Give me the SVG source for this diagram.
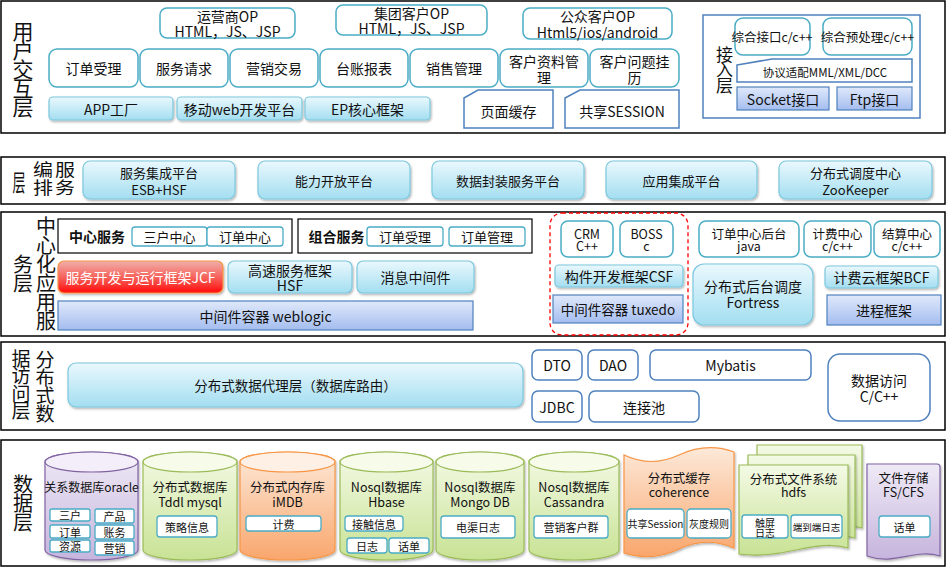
<svg xmlns="http://www.w3.org/2000/svg" width="949" height="569" viewBox="0 0 949 569">
<defs>
<linearGradient id="gLB" x1="0" y1="0" x2="0" y2="1"><stop offset="0" stop-color="#eaf8fd"/><stop offset="1" stop-color="#a3def1"/></linearGradient>
<linearGradient id="gBlue" x1="0" y1="0" x2="0" y2="1"><stop offset="0" stop-color="#e0e9fb"/><stop offset="1" stop-color="#a4bdef"/></linearGradient>
<linearGradient id="gRed" x1="0" y1="0" x2="0" y2="1"><stop offset="0" stop-color="#f0b0ab"/><stop offset="0.55" stop-color="#f75c55"/><stop offset="1" stop-color="#ff0a0a"/></linearGradient>
<linearGradient id="gPur" x1="0" y1="0" x2="0" y2="1"><stop offset="0" stop-color="#efeaf6"/><stop offset="1" stop-color="#c6b4dd"/></linearGradient>
<linearGradient id="gGrn" x1="0" y1="0" x2="0" y2="1"><stop offset="0" stop-color="#f4fae6"/><stop offset="1" stop-color="#c8e294"/></linearGradient>
<linearGradient id="gOrg" x1="0" y1="0" x2="0" y2="1"><stop offset="0" stop-color="#fde9d9"/><stop offset="1" stop-color="#f9a66c"/></linearGradient>
<filter id="sh" x="-10%" y="-10%" width="130%" height="140%"><feDropShadow dx="1" dy="1.5" stdDeviation="1" flood-color="#000" flood-opacity="0.3"/></filter>
<style>
.lay{fill:#fff;stroke:#000;stroke-width:1.5}
.wb{fill:#fff;stroke:#4bacc6;stroke-width:1.5}
.lb{fill:url(#gLB);stroke:#7cc8de;stroke-width:1.2;filter:url(#sh)}
.bb{fill:url(#gBlue);stroke:#4f81bd;stroke-width:1.2}
.db{fill:#fff;stroke:#4f81bd;stroke-width:1.5}
.sb{fill:#fff;stroke:#4bacc6;stroke-width:1.3}
.pur{fill:url(#gPur);stroke:#8064a2;stroke-width:1.2;filter:url(#sh)}
.grn{fill:url(#gGrn);stroke:#9bbb59;stroke-width:1.2;filter:url(#sh)}
.org{fill:url(#gOrg);stroke:#f79646;stroke-width:1.2;filter:url(#sh)}
.pt{fill:#f3eef9;stroke:#8064a2;stroke-width:1.2}
.gt{fill:#f6fbea;stroke:#9bbb59;stroke-width:1.2}
.ot{fill:#fef0e5;stroke:#f79646;stroke-width:1.2}
text{font-family:"Noto Sans CJK SC","Microsoft YaHei",sans-serif;text-anchor:middle;dominant-baseline:central;fill:#111;font-size:14px}
.v{writing-mode:vertical-rl;text-anchor:start;dominant-baseline:central}
.s13{font-size:13px}
.s12{font-size:12.5px}
.s11{font-size:11px}
.s10{font-size:10px}
.b{font-weight:bold}
</style>
</defs>

<!-- Layer 1 -->
<g id="layer-ui">
<rect class="lay" x="1" y="1" width="944" height="132"/>
<text class="v" x="23" y="20.5" style="font-size:21px;letter-spacing:-2px">用户交互层</text>
</g>
<g id="op-yys"><rect class="wb" x="160" y="8" width="135" height="30" rx="7"/><text><tspan x="227.5" y="15.5">运营商OP</tspan><tspan x="227.5" y="31">HTML，JS、JSP</tspan></text></g>
<g id="op-jt"><rect class="wb" x="336" y="5" width="151" height="30" rx="7"/><text><tspan x="411.5" y="12.5">集团客户OP</tspan><tspan x="411.5" y="28">HTML，JS、JSP</tspan></text></g>
<g id="op-gz"><rect class="wb" x="523" y="8" width="149" height="31" rx="7"/><text><tspan x="597.5" y="15.5">公众客户OP</tspan><tspan x="597.5" y="32">Html5/ios/android</tspan></text></g>
<g id="ui-ddsl"><rect class="wb" x="49" y="49" width="89" height="38" rx="8"/><text x="93.5" y="68">订单受理</text></g>
<g id="ui-fwqq"><rect class="wb" x="140" y="49" width="88" height="38" rx="8"/><text x="184" y="68">服务请求</text></g>
<g id="ui-yxjy"><rect class="wb" x="230" y="49" width="88" height="38" rx="8"/><text x="274" y="68">营销交易</text></g>
<g id="ui-tzbb"><rect class="wb" x="320" y="49" width="88" height="38" rx="8"/><text x="364" y="68">台账报表</text></g>
<g id="ui-xsgl"><rect class="wb" x="410" y="49" width="88" height="38" rx="8"/><text x="454" y="68">销售管理</text></g>
<g id="ui-khzl"><rect class="wb" x="500" y="49" width="88" height="38" rx="8"/><text><tspan x="544" y="61">客户资料管</tspan><tspan x="544" y="77">理</tspan></text></g>
<g id="ui-khwt"><rect class="wb" x="590" y="49" width="89" height="38" rx="8"/><text><tspan x="634.5" y="61">客户问题挂</tspan><tspan x="634.5" y="77">历</tspan></text></g>
<g id="ui-app"><rect class="lb" x="49" y="97" width="124" height="23" rx="4"/><text x="111" y="108.5">APP工厂</text></g>
<g id="ui-web"><rect class="lb" x="177" y="97" width="125" height="23" rx="4"/><text x="239.5" y="108.5">移动web开发平台</text></g>
<g id="ui-ep"><rect class="lb" x="305" y="97" width="125" height="23" rx="4"/><text x="367.5" y="108.5">EP核心框架</text></g>
<g id="ui-ymhc"><polygon class="db" points="464,98 478,90 553,90 553,128 464,128"/><text x="508.5" y="111">页面缓存</text></g>
<g id="ui-session"><polygon class="db" points="565,98 580,90 679,90 679,128 565,128"/><text x="622" y="111">共享SESSION</text></g>

<g id="access-layer">
<rect x="703" y="15" width="217" height="103" fill="#fff" stroke="#4f81bd" stroke-width="1.5"/>
<text class="v" x="724.5" y="46" style="font-size:17px;letter-spacing:-1.5px">接入层</text>
</g>
<g id="acc-zhjk"><rect class="wb" x="735" y="18" width="75" height="37" rx="8"/><text class="s12" x="772" y="36.5">综合接口c/c++</text></g>
<g id="acc-zhycl"><rect class="wb" x="823" y="18" width="89" height="37" rx="8"/><text class="s12" x="867.5" y="36.5">综合预处理c/c++</text></g>
<g id="acc-xysp"><polygon class="db" points="737,65 772,59 912,59 912,82 737,82"/><text x="825" y="72" style="font-size:11.5px">协议适配MML/XML/DCC</text></g>
<g id="acc-socket"><rect class="bb" x="737" y="87" width="92" height="23"/><text x="783" y="98.5">Socket接口</text></g>
<g id="acc-ftp"><rect class="bb" x="837" y="87" width="75" height="23"/><text x="874.5" y="98.5">Ftp接口</text></g>

<!-- Layer 2 -->
<g id="layer-orch">
<rect class="lay" x="1" y="157" width="944" height="47"/>
<text transform="translate(19,181) scale(0.62,1.1)" style="font-size:21px">层</text>
<text class="v" transform="translate(43,161) scale(1,0.85)" x="0" y="0" style="font-size:20px;letter-spacing:1px">编排</text>
<text class="v" transform="translate(65,161) scale(1,0.85)" x="0" y="0" style="font-size:20px;letter-spacing:1px">服务</text>
</g>
<g id="orch-esb"><rect class="lb" x="83" y="161" width="152" height="38" rx="7"/><text class="s13"><tspan x="159" y="172">服务集成平台</tspan><tspan x="159" y="189">ESB+HSF</tspan></text></g>
<g id="orch-nlkf"><rect class="lb" x="258" y="161" width="152" height="38" rx="7"/><text class="s13" x="334" y="180">能力开放平台</text></g>
<g id="orch-sjfz"><rect class="lb" x="432" y="161" width="152" height="38" rx="7"/><text class="s13" x="508" y="180">数据封装服务平台</text></g>
<g id="orch-yyjc"><rect class="lb" x="606" y="161" width="151" height="38" rx="7"/><text class="s13" x="681.5" y="180">应用集成平台</text></g>
<g id="orch-zk"><rect class="lb" x="779" y="161" width="153" height="38" rx="7"/><text class="s13"><tspan x="855.5" y="172">分布式调度中心</tspan><tspan x="855.5" y="189">ZooKeeper</tspan></text></g>

<!-- Layer 3 -->
<g id="layer-app">
<rect class="lay" x="1" y="212" width="944" height="124"/>
<text class="v" x="46" y="216.5" style="font-size:20px;letter-spacing:-1px">中心化应用服</text>
<text class="v" x="23" y="254.5" style="font-size:20px;letter-spacing:-1px">务层</text>
</g>
<g id="center-service">
<rect x="58" y="219" width="234" height="34" fill="#fff" stroke="#000" stroke-width="1.2"/>
<text class="b" x="97" y="236">中心服务</text>
<rect class="sb" x="132" y="227" width="75" height="19" rx="3"/><text class="s13" x="169.5" y="236.5">三户中心</text>
<rect class="sb" x="207" y="227" width="76" height="19" rx="3"/><text class="s13" x="245" y="236.5">订单中心</text>
</g>
<g id="combo-service">
<rect x="298" y="219" width="234" height="34" fill="#fff" stroke="#000" stroke-width="1.2"/>
<text class="b" x="336.5" y="236">组合服务</text>
<rect class="sb" x="367" y="227" width="76" height="19" rx="3"/><text class="s13" x="405" y="236.5">订单受理</text>
<rect class="sb" x="449" y="227" width="76" height="19" rx="3"/><text class="s13" x="487" y="236.5">订单管理</text>
</g>
<g id="app-jcf"><rect x="58" y="261" width="165" height="32" rx="6" fill="url(#gRed)" stroke="#f79646" stroke-width="1.2" filter="url(#sh)"/><text x="140.5" y="277" style="fill:#fff">服务开发与运行框架JCF</text></g>
<g id="app-hsf"><rect class="lb" x="228" y="261" width="124" height="32" rx="6"/><text><tspan x="290" y="269.5">高速服务框架</tspan><tspan x="290" y="285">HSF</tspan></text></g>
<g id="app-mq"><rect class="lb" x="357" y="261" width="117" height="32" rx="6"/><text x="415.5" y="277">消息中间件</text></g>
<g id="app-weblogic"><rect class="bb" x="58" y="301" width="415" height="29"/><text x="265.5" y="315.5">中间件容器 weblogic</text></g>

<g id="crm-boss-group"><rect x="550" y="213" width="138" height="122" rx="12" fill="none" stroke="#ff0000" stroke-width="1.3" stroke-dasharray="4,3"/></g>
<g id="app-crm"><rect class="wb" x="561" y="221" width="52" height="36" rx="7"/><text class="s12"><tspan x="587" y="233">CRM</tspan><tspan x="587" y="245">C++</tspan></text></g>
<g id="app-boss"><rect class="wb" x="620" y="221" width="53" height="36" rx="7"/><text class="s12"><tspan x="646.5" y="233">BOSS</tspan><tspan x="646.5" y="245">c</tspan></text></g>
<g id="app-csf"><rect class="lb" x="555" y="265" width="128" height="22" rx="4"/><text x="619" y="276">构件开发框架CSF</text></g>
<g id="app-tuxedo"><rect class="bb" x="553" y="295" width="130" height="28"/><text x="618" y="309" style="font-size:13.5px">中间件容器 tuxedo</text></g>
<g id="app-ddzxht"><rect class="wb" x="699" y="221" width="100" height="36" rx="7"/><text class="s12"><tspan x="749" y="233">订单中心后台</tspan><tspan x="749" y="245">java</tspan></text></g>
<g id="app-jfzx"><rect class="wb" x="804" y="221" width="67" height="36" rx="7"/><text class="s12"><tspan x="837.5" y="233">计费中心</tspan><tspan x="837.5" y="245">c/c++</tspan></text></g>
<g id="app-jszx"><rect class="wb" x="874" y="221" width="66" height="36" rx="7"/><text class="s12"><tspan x="907" y="233">结算中心</tspan><tspan x="907" y="245">c/c++</tspan></text></g>
<g id="app-fortress"><rect class="lb" x="693" y="264" width="120" height="61" rx="11"/><text><tspan x="753" y="286">分布式后台调度</tspan><tspan x="753" y="302">Fortress</tspan></text></g>
<g id="app-bcf"><rect class="lb" x="825" y="266" width="113" height="22" rx="4"/><text x="881.5" y="277">计费云框架BCF</text></g>
<g id="app-jckj"><rect class="bb" x="827" y="295" width="114" height="30"/><text x="884" y="310">进程框架</text></g>

<!-- Layer 4 -->
<g id="layer-dal">
<rect class="lay" x="1" y="342" width="944" height="88"/>
<text class="v" x="21" y="349" style="font-size:19px;letter-spacing:-1.5px">据访问层</text>
<text class="v" x="45" y="350" style="font-size:19px;letter-spacing:-1px">分布式数</text>
</g>
<g id="dal-proxy"><rect class="lb" x="68" y="363" width="455" height="44" rx="8"/><text x="295.5" y="385" style="font-size:13.5px">分布式数据代理层（数据库路由）</text></g>
<g id="dal-dto"><rect class="db" x="532" y="350" width="50" height="30" rx="6"/><text x="557" y="365">DTO</text></g>
<g id="dal-dao"><rect class="db" x="588" y="350" width="50" height="30" rx="6"/><text x="613" y="365">DAO</text></g>
<g id="dal-mybatis"><rect class="db" x="650" y="350" width="161" height="30" rx="6"/><text x="730.5" y="364.5">Mybatis</text></g>
<g id="dal-jdbc"><rect class="db" x="532" y="391" width="50" height="31" rx="6"/><text x="557" y="406.5">JDBC</text></g>
<g id="dal-pool"><rect class="db" x="589" y="391" width="110" height="31" rx="6"/><text x="644" y="406.5">连接池</text></g>
<g id="dal-cpp"><rect class="db" x="828" y="354" width="102" height="67" rx="12"/><text><tspan x="879" y="380">数据访问</tspan><tspan x="879" y="396">C/C++</tspan></text></g>

<!-- Layer 5 -->
<g id="layer-data">
<rect class="lay" x="1" y="440" width="944" height="126"/>
<text class="v" x="23" y="474" style="font-size:20px;letter-spacing:-1px">数据层</text>
</g>
<g id="db-oracle">
<path class="pur" d="M45,462 A46.5,10 0 0 1 138,462 V550 A46.5,10 0 0 1 45,550 Z"/>
<ellipse class="pt" cx="91.5" cy="462" rx="46.5" ry="10"/>
<text x="91.5" y="486" style="font-size:12px">关系数据库oracle</text>
<rect class="sb" x="50" y="509" width="40" height="12" rx="2"/><text class="s11" x="70" y="515">三户</text>
<rect class="sb" x="95" y="509" width="39" height="14" rx="2"/><text class="s11" x="114.5" y="516">产品</text>
<rect class="sb" x="50" y="525" width="40" height="13" rx="2"/><text class="s11" x="70" y="531.5">订单</text>
<rect class="sb" x="95" y="525" width="39" height="14" rx="2"/><text class="s11" x="114.5" y="532">账务</text>
<rect class="sb" x="50" y="540" width="40" height="12" rx="2"/><text class="s11" x="70" y="546">资源</text>
<rect class="sb" x="95" y="541" width="39" height="14" rx="2"/><text class="s11" x="114.5" y="548">营销</text>
</g>
<g id="db-tddl">
<path class="grn" d="M143,462 A47,10 0 0 1 237,462 V550 A47,10 0 0 1 143,550 Z"/>
<ellipse class="gt" cx="190" cy="462" rx="47" ry="10"/>
<text class="s12"><tspan x="190" y="486">分布式数据库</tspan><tspan x="190" y="501">Tddl mysql</tspan></text>
<rect class="sb" x="157" y="516" width="60" height="21" rx="3"/><text class="s11" x="187" y="526.5">策略信息</text>
</g>
<g id="db-imdb">
<path class="org" d="M240,462 A47.5,10 0 0 1 335,462 V550 A47.5,10 0 0 1 240,550 Z"/>
<ellipse class="ot" cx="287.5" cy="462" rx="47.5" ry="10"/>
<text class="s12"><tspan x="287.5" y="486">分布式内存库</tspan><tspan x="287.5" y="501">iMDB</tspan></text>
<rect class="sb" x="246" y="516" width="75" height="15" rx="3"/><text class="s11" x="283.5" y="523.5">计费</text>
</g>
<g id="db-hbase">
<path class="grn" d="M340,462 A46.5,10 0 0 1 433,462 V550 A46.5,10 0 0 1 340,550 Z"/>
<ellipse class="gt" cx="386.5" cy="462" rx="46.5" ry="10"/>
<text class="s12"><tspan x="386.5" y="486">Nosql数据库</tspan><tspan x="386.5" y="501">Hbase</tspan></text>
<rect class="sb" x="345" y="516" width="58" height="15" rx="3"/><text class="s11" x="374" y="523.5">接触信息</text>
<rect class="sb" x="347" y="538" width="40" height="15" rx="3"/><text class="s11" x="367" y="545.5">日志</text>
<rect class="sb" x="389" y="538" width="40" height="15" rx="3"/><text class="s11" x="409" y="545.5">话单</text>
</g>
<g id="db-mongo">
<path class="grn" d="M436,462 A44,10 0 0 1 524,462 V550 A44,10 0 0 1 436,550 Z"/>
<ellipse class="gt" cx="480" cy="462" rx="44" ry="10"/>
<text class="s12"><tspan x="480" y="486">Nosql数据库</tspan><tspan x="480" y="501">Mongo DB</tspan></text>
<rect class="sb" x="441" y="516" width="74" height="22" rx="3"/><text class="s11" x="478" y="527">电渠日志</text>
</g>
<g id="db-cassandra">
<path class="grn" d="M529,462 A45,10 0 0 1 619,462 V550 A45,10 0 0 1 529,550 Z"/>
<ellipse class="gt" cx="574" cy="462" rx="45" ry="10"/>
<text class="s12"><tspan x="574" y="486">Nosql数据库</tspan><tspan x="574" y="501">Cassandra</tspan></text>
<rect class="sb" x="534" y="516" width="74" height="22" rx="3"/><text class="s11" x="571" y="527">营销客户群</text>
</g>
<g id="db-coherence">
<path class="org" d="M624,455 Q651,468 679,455 T734,452 V548 Q706,536 679,549 T624,553 Z"/>
<text class="s12"><tspan x="679" y="477">分布式缓存</tspan><tspan x="679" y="491">coherence</tspan></text>
<rect class="sb" x="627" y="509" width="57" height="29" rx="4"/><text class="s10" x="655.5" y="523.5">共享Session</text>
<rect class="sb" x="687" y="509" width="44" height="29" rx="4"/><text class="s10" x="709" y="523.5">灰度规则</text>
</g>
<g id="db-hdfs">
<path class="grn" d="M757,445 H862 V528 C830,518 800,540 757,534 Z"/>
<path class="grn" d="M748,455 H855 V538 C822,528 792,550 748,544 Z"/>
<path class="grn" d="M739,465 H848 V548 C815,538 785,560 739,554 Z"/>
<text class="s12"><tspan x="793.5" y="478">分布式文件系统</tspan><tspan x="793.5" y="491">hdfs</tspan></text>
<rect class="sb" x="742" y="515" width="46" height="23" rx="3"/><text class="s10"><tspan x="765" y="521.5">触屏</tspan><tspan x="765" y="532">日志</tspan></text>
<rect class="sb" x="791" y="515" width="51" height="23" rx="3"/><text x="816.5" y="526.5" style="font-size:9.5px">端到端日志</text>
</g>
<g id="fs-cfs">
<path class="pur" d="M867,464 H937 Q940,464 940,467 V556 C915,548 895,566 867,556 Z"/>
<text class="s12"><tspan x="903.5" y="477">文件存储</tspan><tspan x="903.5" y="491">FS/CFS</tspan></text>
<rect class="sb" x="879" y="516" width="51" height="21" rx="3"/><text class="s11" x="904.5" y="526.5">话单</text>
</g>
<g id="connectors"></g>
</svg>
